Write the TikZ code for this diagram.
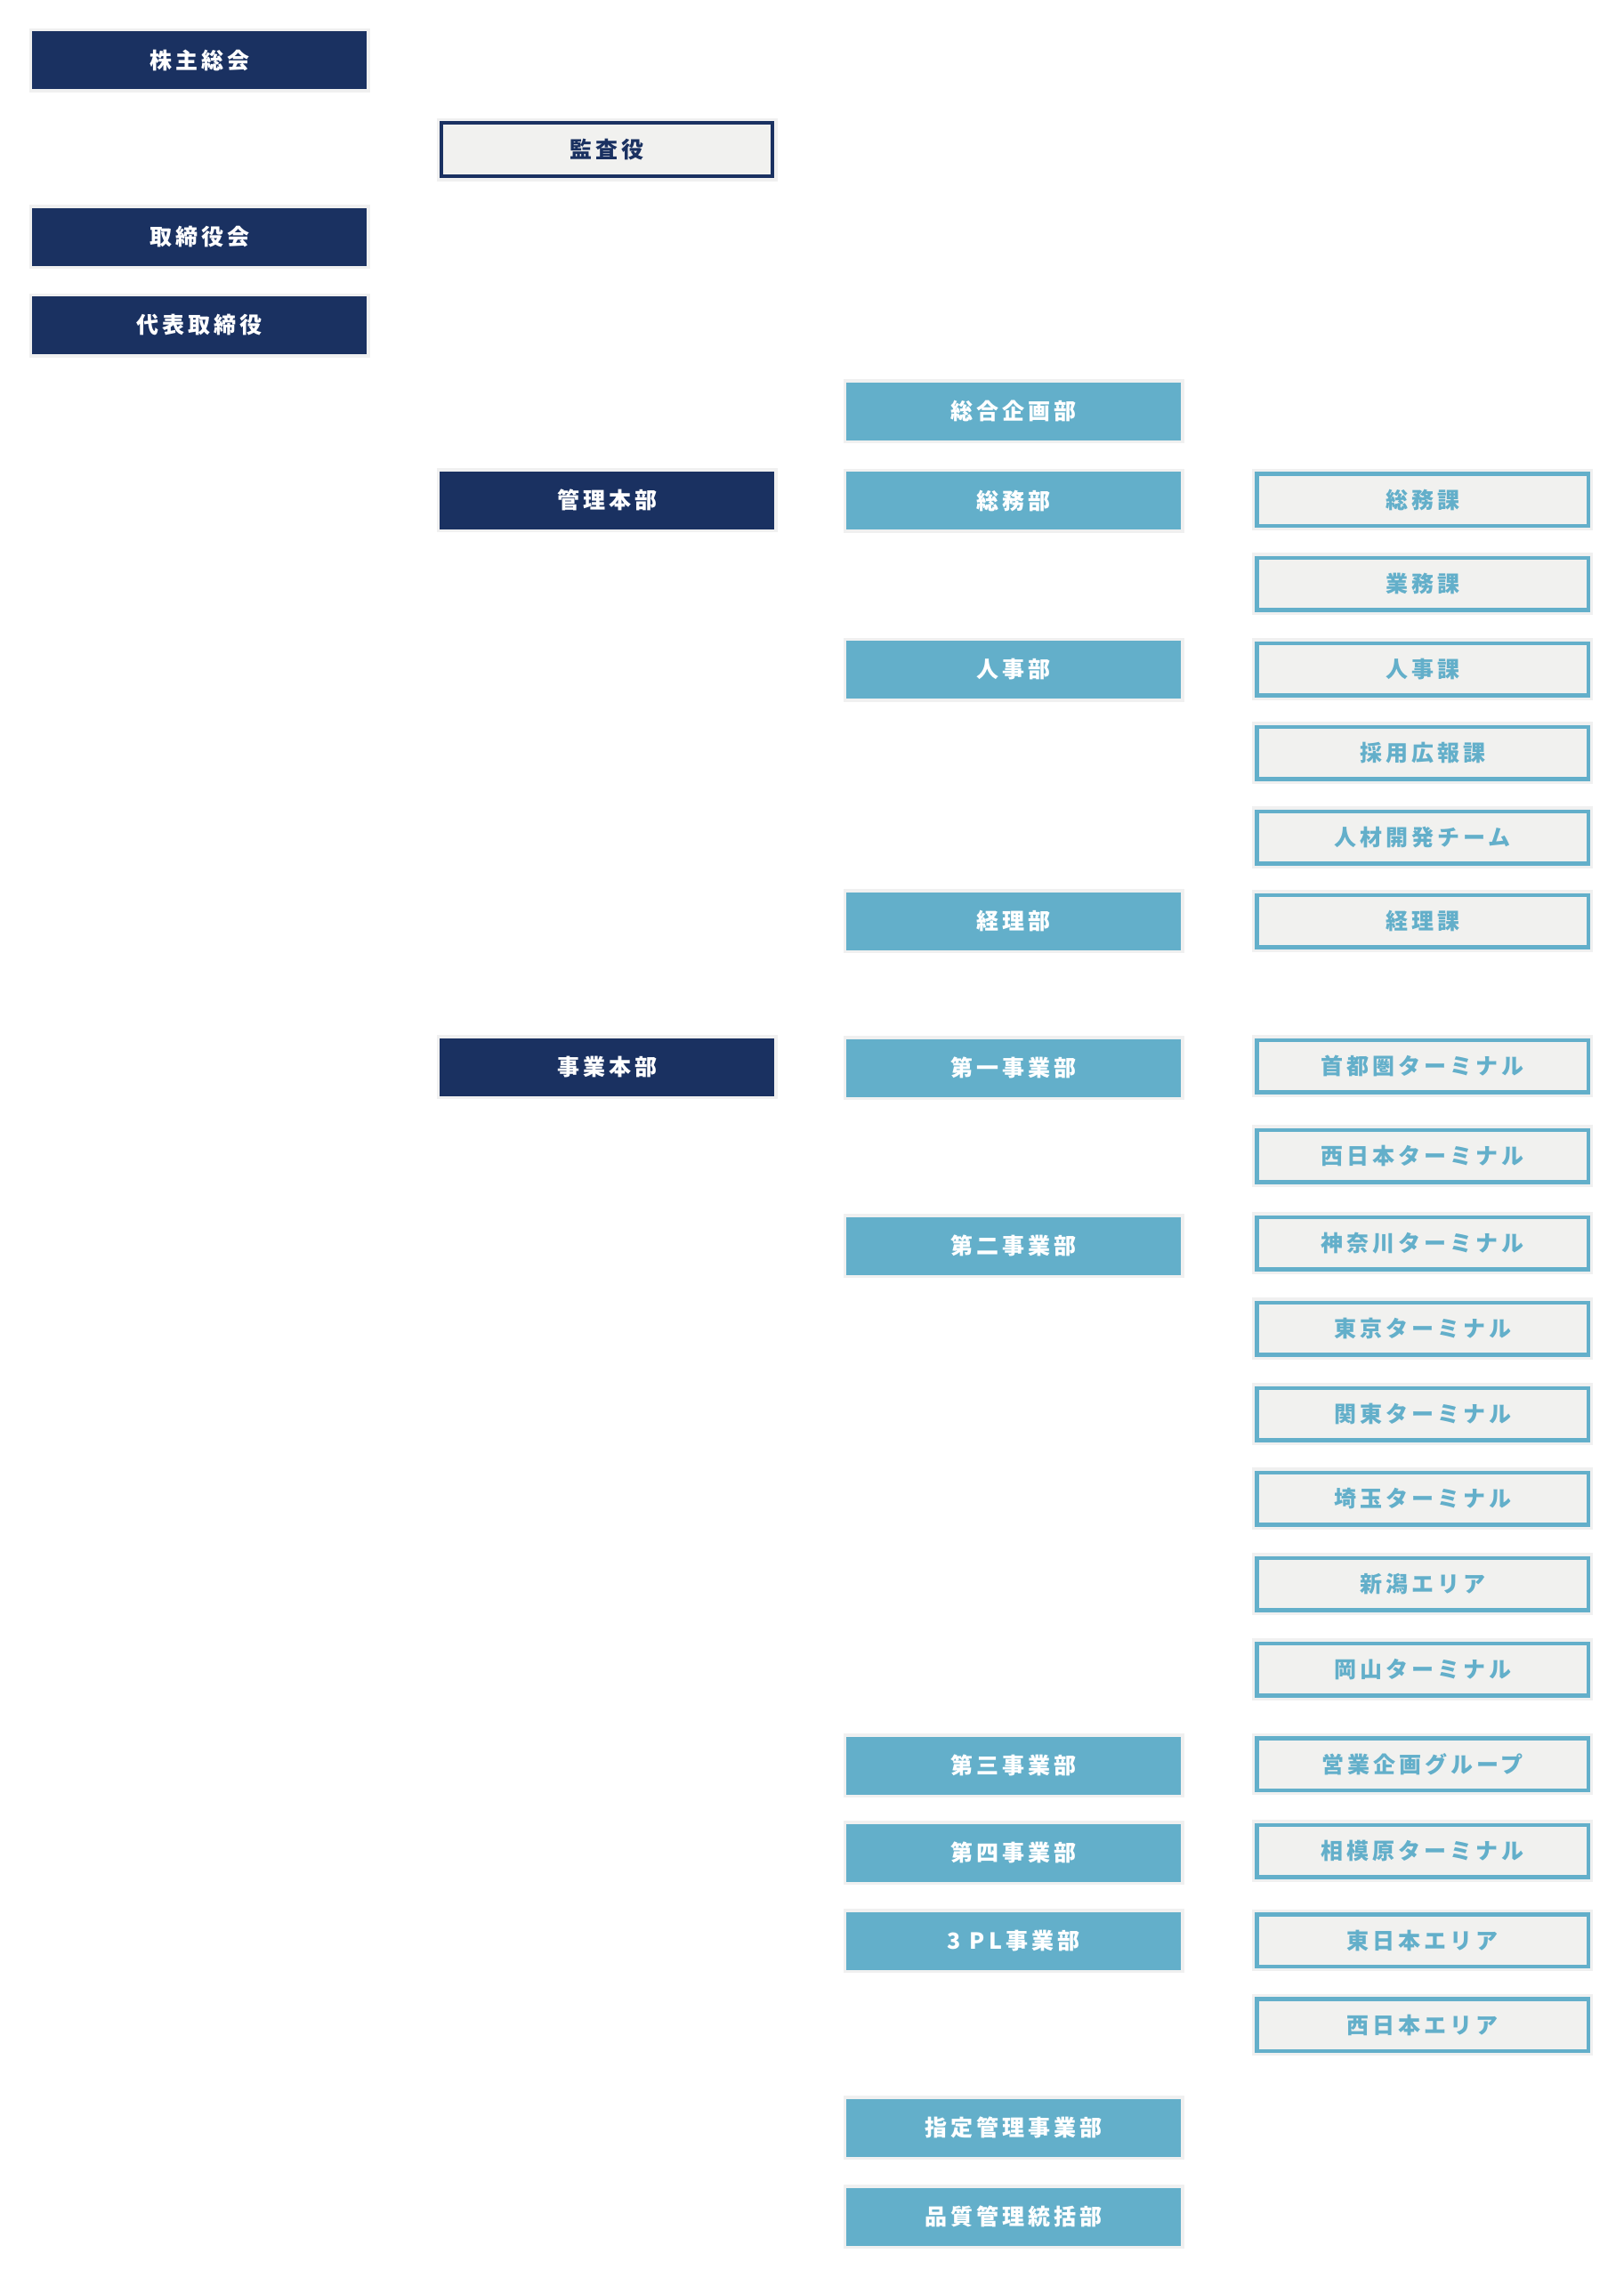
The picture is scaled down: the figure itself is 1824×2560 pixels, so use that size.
\documentclass[tikz,border=0pt]{standalone}
\usepackage{fontspec}
\newfontfamily\jp[LetterSpace=16]{Noto Sans CJK JP}
\definecolor{navy}{HTML}{1A3161}
\definecolor{lblue}{HTML}{63AFCA}
\definecolor{pale}{HTML}{F1F1EF}
\definecolor{halo}{HTML}{F0F0F0}
\tikzset{
  basebox/.style={rectangle, inner sep=0pt, font=\jp\bfseries\fontsize{25}{29}\selectfont},
  navybox/.style={basebox, fill=navy, text=white, minimum width=376pt, minimum height=65pt,
    preaction={draw=halo, line width=7pt}},
  bluebox/.style={basebox, fill=lblue, text=white, minimum width=376pt, minimum height=65pt,
    preaction={draw=halo, line width=7pt}},
  auditbox/.style={basebox, fill=pale, draw=navy, line width=4pt, text=navy,
    minimum width=372pt, minimum height=60pt, preaction={draw=halo, line width=11pt}},
  subbox/.style={basebox, fill=pale, draw=lblue, line width=4.5pt, text=lblue,
    minimum width=372.5pt, minimum height=58.5pt, preaction={draw=halo, line width=11pt}}
}
\begin{document}
\begin{tikzpicture}[x=1pt,y=-1pt]
\fill[white] (0,0) rectangle (1824,2560);
\useasboundingbox (0,0) rectangle (1824,2560);
% column 1
\node[navybox] (kabu) at (224,67.5) {株主総会};
\node[navybox] (torishimari) at (224,266) {取締役会};
\node[navybox] (daihyo) at (224,365.5) {代表取締役};
% column 2
\node[auditbox] (kansa) at (682,168) {監査役};
\node[navybox] (kanri) at (682,562) {管理本部};
\node[navybox] (jigyo) at (682,1199) {事業本部};
% column 3
\node[bluebox] (sogokikaku) at (1139,462) {総合企画部};
\node[bluebox] (somubu) at (1139,562.5) {総務部};
\node[bluebox] (jinjibu) at (1139,752.5) {人事部};
\node[bluebox] (keiribu) at (1139,1035) {経理部};
\node[bluebox] (dai1) at (1139,1200) {第一事業部};
\node[bluebox] (dai2) at (1139,1400) {第二事業部};
\node[bluebox] (dai3) at (1139,1984) {第三事業部};
\node[bluebox] (dai4) at (1139,2082) {第四事業部};
\node[bluebox] (tpl) at (1139,2181) {3 PL事業部};
\node[bluebox] (shitei) at (1139,2391) {指定管理事業部};
\node[bluebox] (hinshitsu) at (1139,2491) {品質管理統括部};
% column 4
\node[subbox] (somuka) at (1598.5,561.5) {総務課};
\node[subbox] (gyomuka) at (1598.5,656) {業務課};
\node[subbox] (jinjika) at (1598.5,752) {人事課};
\node[subbox] (saiyo) at (1598.5,846) {採用広報課};
\node[subbox] (jinzai) at (1598.5,941) {人材開発チーム};
\node[subbox] (keirika) at (1598.5,1035) {経理課};
\node[subbox] (shutoken) at (1598.5,1198) {首都圏ターミナル};
\node[subbox] (nishinihon) at (1598.5,1299) {西日本ターミナル};
\node[subbox] (kanagawa) at (1598.5,1397) {神奈川ターミナル};
\node[subbox] (tokyo) at (1598.5,1493) {東京ターミナル};
\node[subbox] (kanto) at (1598.5,1589) {関東ターミナル};
\node[subbox] (saitama) at (1598.5,1684) {埼玉ターミナル};
\node[subbox] (niigata) at (1598.5,1780) {新潟エリア};
\node[subbox] (okayama) at (1598.5,1876) {岡山ターミナル};
\node[subbox] (eigyo) at (1598.5,1982.5) {営業企画グループ};
\node[subbox] (sagamihara) at (1598.5,2080) {相模原ターミナル};
\node[subbox] (higashiarea) at (1598.5,2180.5) {東日本エリア};
\node[subbox] (nishiarea) at (1598.5,2275.5) {西日本エリア};
\end{tikzpicture}
\end{document}
